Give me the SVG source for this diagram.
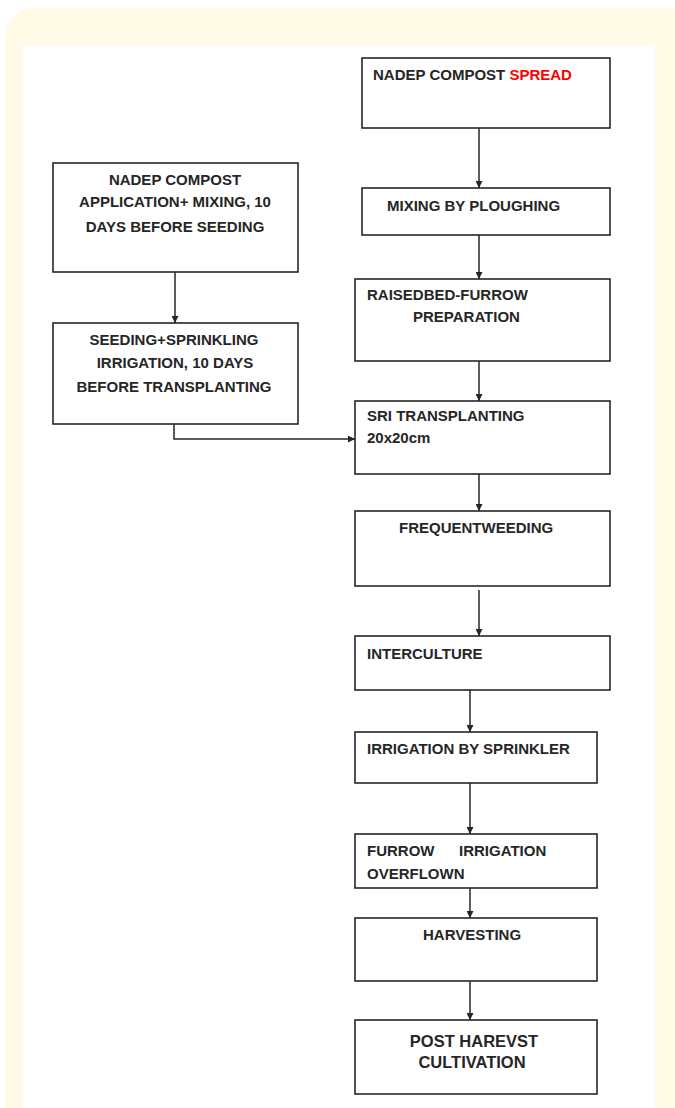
<svg xmlns="http://www.w3.org/2000/svg" width="675" height="1108" viewBox="0 0 675 1108">
<defs>
<style>
.box{fill:#fff;stroke:#262626;stroke-width:1.6}
.t{font-family:"Liberation Sans",Arial,sans-serif;font-weight:bold;font-size:15px;fill:#262626}
.c{text-anchor:middle}
.ln{fill:none;stroke:#262626;stroke-width:1.5}
</style>
<marker id="ah" viewBox="0 0 10 10" refX="10" refY="5" markerWidth="7" markerHeight="7" markerUnits="userSpaceOnUse" orient="auto">
<path d="M0,0 L10,5 L0,10 Z" fill="#262626"/>
</marker>
</defs>
<rect width="675" height="1108" fill="#fff"/>
<rect x="5" y="8" width="700" height="1140" rx="30" fill="#FFFBE7"/>
<rect x="23" y="45" width="632" height="1100" fill="#fff"/>

<g id="connectors">
<line class="ln" x1="479" y1="128" x2="479" y2="188" marker-end="url(#ah)"/>
<line class="ln" x1="479" y1="235" x2="479" y2="279" marker-end="url(#ah)"/>
<line class="ln" x1="479" y1="361" x2="479" y2="401" marker-end="url(#ah)"/>
<line class="ln" x1="479" y1="474" x2="479" y2="511" marker-end="url(#ah)"/>
<line class="ln" x1="479" y1="590" x2="479" y2="636" marker-end="url(#ah)"/>
<line class="ln" x1="470" y1="690" x2="470" y2="732" marker-end="url(#ah)"/>
<line class="ln" x1="470" y1="783" x2="470" y2="834" marker-end="url(#ah)"/>
<line class="ln" x1="470" y1="888" x2="470" y2="918" marker-end="url(#ah)"/>
<line class="ln" x1="470" y1="981" x2="470" y2="1020" marker-end="url(#ah)"/>
<line class="ln" x1="175" y1="270" x2="175" y2="323" marker-end="url(#ah)"/>
<path class="ln" d="M174,424 L174,439 L355,439" marker-end="url(#ah)"/>
</g>

<g id="n1">
<rect class="box" x="362" y="58" width="248" height="70"/>
<text class="t" x="373" y="80">NADEP COMPOST <tspan fill="#ff0000">SPREAD</tspan></text>
</g>
<g id="n2">
<rect class="box" x="362" y="188" width="248" height="47"/>
<text class="t" x="387" y="211">MIXING BY PLOUGHING</text>
</g>
<g id="n3">
<rect class="box" x="355" y="279" width="255" height="82"/>
<text class="t" x="367" y="300">RAISEDBED-FURROW</text>
<text class="t" x="413" y="322">PREPARATION</text>
</g>
<g id="n4">
<rect class="box" x="355" y="401" width="255" height="73"/>
<text class="t" x="367" y="421">SRI TRANSPLANTING</text>
<text class="t" x="367" y="443">20x20cm</text>
</g>
<g id="n5">
<rect class="box" x="355" y="511" width="255" height="75"/>
<text class="t" x="399" y="533">FREQUENTWEEDING</text>
</g>
<g id="n6">
<rect class="box" x="355" y="636" width="255" height="54"/>
<text class="t" x="367" y="659">INTERCULTURE</text>
</g>
<g id="n7">
<rect class="box" x="355" y="732" width="242" height="51"/>
<text class="t" x="367" y="754">IRRIGATION BY SPRINKLER</text>
</g>
<g id="n8">
<rect class="box" x="355" y="834" width="242" height="54"/>
<text class="t" x="367" y="856">FURROW</text>
<text class="t" x="459" y="856">IRRIGATION</text>
<text class="t" x="367" y="879">OVERFLOWN</text>
</g>
<g id="n9">
<rect class="box" x="355" y="918" width="242" height="63"/>
<text class="t" x="423" y="940">HARVESTING</text>
</g>
<g id="n10">
<rect class="box" x="355" y="1020" width="242" height="74"/>
<text class="t c" x="474" y="1047" style="font-size:16.5px">POST HAREVST</text>
<text class="t c" x="472" y="1068" style="font-size:16.5px">CULTIVATION</text>
</g>
<g id="nA">
<rect class="box" x="53" y="163" width="245" height="109"/>
<text class="t c" x="175" y="185">NADEP COMPOST</text>
<text class="t c" x="175" y="207">APPLICATION+ MIXING, 10</text>
<text class="t c" x="175" y="232">DAYS BEFORE SEEDING</text>
</g>
<g id="nB">
<rect class="box" x="53" y="323" width="245" height="101"/>
<text class="t c" x="174" y="345">SEEDING+SPRINKLING</text>
<text class="t c" x="175" y="368">IRRIGATION, 10 DAYS</text>
<text class="t c" x="174" y="392">BEFORE TRANSPLANTING</text>
</g>
</svg>
